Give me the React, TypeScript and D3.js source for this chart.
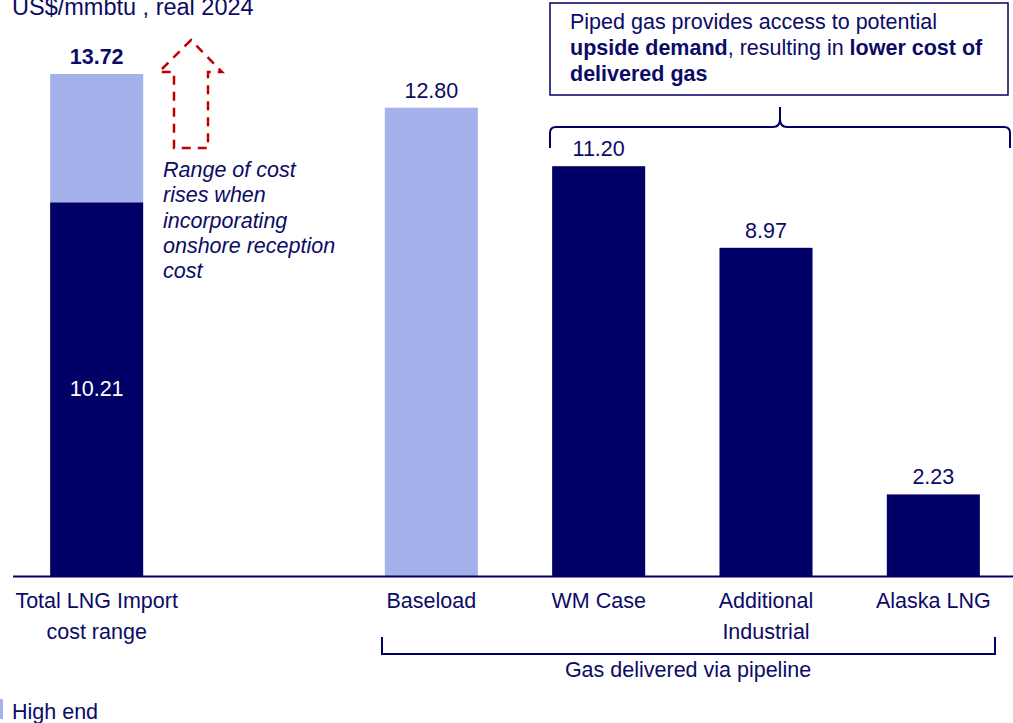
import React from "react";
import * as d3 from "d3";

const categories = ["Total LNG Import cost range", "gap", "Baseload", "WM Case", "Additional Industrial", "Alaska LNG"];
const categoryLabelLines = [["Total LNG Import", "cost range"], [], ["Baseload"], ["WM Case"], ["Additional", "Industrial"], ["Alaska LNG"]];
const baseValues: (number | null)[] = [10.21, null, null, 11.2, 8.97, 2.23];
const highEndValues: (number | null)[] = [13.72, null, 12.8, null, null, null];
const valueLabels = ["13.72", "", "12.80", "11.20", "8.97", "2.23"];
const innerLabel = "10.21";
const titleText = "US$/mmbtu , real 2024";
const noteLines = ["Range of cost", "rises when", "incorporating", "onshore reception", "cost"];
const bracketLabel = "Gas delivered via pipeline";
const legendLabel = "High end";

const NAVY = "#000066";
const LIGHT = "#a5b1ea";
const TEXT = "#0b0b66";
const RED = "#c00000";
const FONT = "Liberation Sans, Arial, sans-serif";
const FS = 21.5;

export default function App() {
  const W = 1013, H = 723;
  const x = d3.scaleBand<string>().domain(categories).range([13, 1017]).paddingInner(0.444).paddingOuter(0.222);
  const y = d3.scaleLinear().domain([0, 13.72]).range([576, 74]);
  const bw = x.bandwidth();
  const cx = (i: number) => (x(categories[i]) as number) + bw / 2;

  const arrow = "M191,40 L159,72 L174,72 L174,148 L208,148 L208,72 L222,72 Z";
  const brace = "M550,148 L550,133 Q550,127 556,127 L773,127 Q780,127 780,119 L780,107 L780,119 Q780,127 787,127 L1004,127 Q1010,127 1010,133 L1010,148";
  const bottomBracket = "M382,637 L382,654 L995,654 L995,637";

  return (
    <svg width={W} height={H} style={{ position: "absolute", left: 0, top: 0, background: "#fff" }} fontFamily={FONT}>
      {/* title */}
      <text x={12} y={15} fontSize={23.5} fill={TEXT}>{titleText}</text>

      {/* bars */}
      {categories.map((c, i) => {
        const xs = x(c) as number;
        const base = baseValues[i];
        const hi = highEndValues[i];
        return (
          <g key={c}>
            {hi != null && (
              <rect x={xs} y={y(hi)} width={bw} height={y(base ?? 0) - y(hi)} fill={LIGHT} />
            )}
            {base != null && (
              <rect x={xs} y={y(base)} width={bw} height={y(0) - y(base)} fill={NAVY} />
            )}
          </g>
        );
      })}

      {/* value labels */}
      {categories.map((c, i) => {
        const top = Math.max(baseValues[i] ?? 0, highEndValues[i] ?? 0);
        if (!valueLabels[i]) return null;
        return (
          <text key={"v" + c} x={cx(i)} y={y(top) - 10} textAnchor="middle" fontSize={FS}
            fontWeight={i === 0 ? "bold" : "normal"} fill={TEXT}>{valueLabels[i]}</text>
        );
      })}
      <text x={cx(0)} y={(y(baseValues[0] as number) + y(0)) / 2 + 7} textAnchor="middle" fontSize={FS} fill="#fff">{innerLabel}</text>

      {/* axis */}
      <line x1={13} x2={1013} y1={y(0) + 0.5} y2={y(0) + 0.5} stroke={NAVY} strokeWidth={2} />

      {/* category labels */}
      {categories.map((c, i) => (
        <text key={"c" + c} x={cx(i)} textAnchor="middle" fontSize={FS} fill={TEXT}>
          {categoryLabelLines[i].map((l, j) => (
            <tspan key={j} x={cx(i)} y={608 + j * 31}>{l}</tspan>
          ))}
        </text>
      ))}

      {/* dashed arrow */}
      <path d={arrow} fill="none" stroke={RED} strokeWidth={2.5} strokeDasharray="9,7" />
      <text fontSize={FS} fontStyle="italic" fill={TEXT}>
        {noteLines.map((l, j) => (
          <tspan key={j} x={163} y={177 + j * 25.3}>{l}</tspan>
        ))}
      </text>

      {/* callout */}
      <rect x={550} y={3} width={458} height={92} fill="#fff" stroke={NAVY} strokeWidth={1.5} />
      <text fontSize={FS} fill={TEXT}>
        <tspan x={570} y={29}>Piped gas provides access to potential</tspan>
        <tspan x={570} y={55} fontWeight="bold">upside demand</tspan>
        <tspan>, resulting in </tspan>
        <tspan fontWeight="bold">lower cost of</tspan>
        <tspan x={570} y={81} fontWeight="bold">delivered gas</tspan>
      </text>
      <path d={brace} fill="none" stroke={NAVY} strokeWidth={2} />

      {/* bottom bracket */}
      <path d={bottomBracket} fill="none" stroke={NAVY} strokeWidth={2} />
      <text x={688} y={677} textAnchor="middle" fontSize={FS} fill={TEXT}>{bracketLabel}</text>

      {/* legend */}
      <rect x={0} y={699} width={3} height={20} fill={LIGHT} />
      <text x={12} y={719} fontSize={FS} fill={TEXT}>{legendLabel}</text>
    </svg>
  );
}
